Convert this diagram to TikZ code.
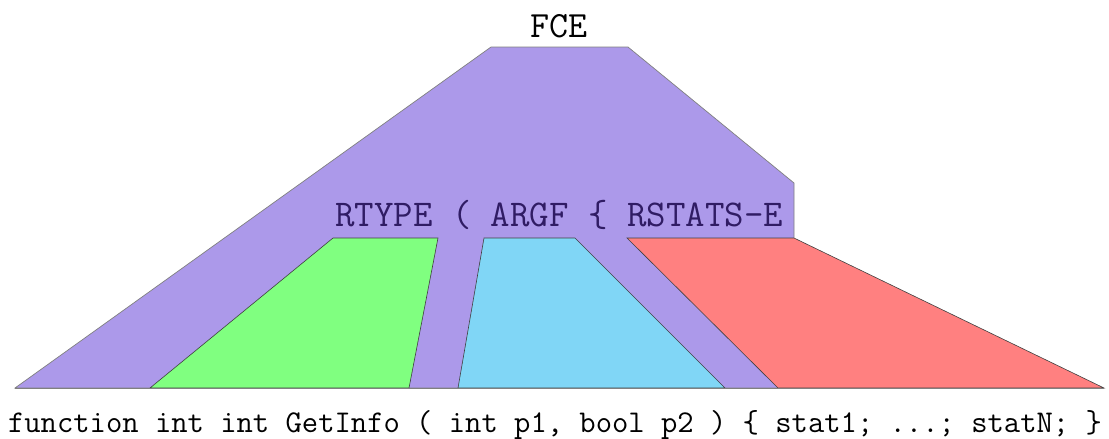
\documentclass[tikz,border=0pt]{standalone}
\definecolor{fcepurple}{RGB}{172,153,234}
\definecolor{rtgreen}{RGB}{128,255,128}
\definecolor{argblue}{RGB}{128,214,246}
\definecolor{rsred}{RGB}{255,128,128}
\definecolor{labtext}{RGB}{48,28,100}
\begin{document}
\begin{tikzpicture}[x=1pt,y=-1pt,
  outer/.style={fill=fcepurple,draw=gray,line width=0.7pt},
  part/.style={draw=black!75,line width=0.6pt},
  tt/.style={font=\ttfamily\fontsize{37}{40}\selectfont,inner sep=0pt},
  ttmid/.style={font=\ttfamily\fontsize{37.8}{40}\selectfont,inner sep=0pt},
  ttsmall/.style={font=\ttfamily\fontsize{31.7}{36}\selectfont,inner sep=0pt}]
\useasboundingbox (0,0) rectangle (1109,439);
\fill[outer] (15,388) -- (491,47) -- (628,47) -- (794,183) -- (794,238) -- (778,388) -- cycle;
\filldraw[part,fill=rtgreen] (150,388) -- (333,238) -- (438,238) -- (409,388) -- cycle;
\filldraw[part,fill=argblue] (458,388) -- (484,238) -- (575,238) -- (725,388) -- cycle;
\filldraw[part,fill=rsred] (778,388) -- (627,238) -- (794,238) -- (1104,388) -- cycle;
\draw[gray,line width=0.7pt] (15,388) -- (1104,388);
\node[tt,anchor=base] (fce) at (559,37) {FCE};
\node[ttmid,anchor=base west,text=labtext] (lab) at (335,226) {RTYPE ( ARGF \{ RSTATS-E};
\node[ttsmall,anchor=base] (code) at (555,432) {function int int GetInfo ( int p1, bool p2 ) \{ stat1; ...; statN; \}};
\end{tikzpicture}
\end{document}
